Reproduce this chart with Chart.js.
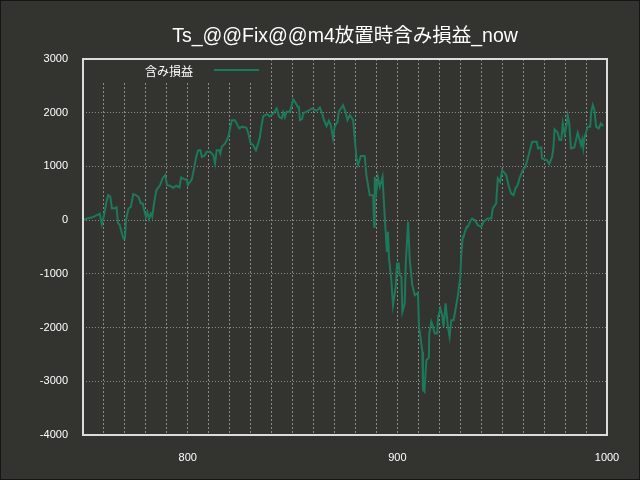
<!DOCTYPE html>
<html>
<head>
<meta charset="utf-8">
<script src="https://cdn.jsdelivr.net/npm/chart.js@4/dist/chart.umd.min.js"></script>
<style>
  html, body { margin: 0; padding: 0; background: #33332f; }
  #wrap { width: 640px; height: 480px; }
</style>
</head>
<body>
<div id="wrap"><canvas id="c" width="640" height="480"></canvas></div>
<script>
// chart data
const chartTitle = 'Ts_@@Fix@@m4放置時含み損益_now';
const seriesName = '含み損益';
const xTicksLabelled = [800, 900, 1000];

const xs = [
  750, 752, 755, 758, 759, 760, 761, 762, 763, 763.8, 765, 766, 766.7, 767.5, 768.6, 769.3, 770, 770.5,
  771.7, 772.8, 774, 775, 776.5, 777.6, 778.5, 779.3, 780, 780.7, 781.5, 782.3, 783, 784, 785, 786.8,
  787.9, 789.2, 790.1, 791.5, 793, 794.5, 796, 796.8, 798.7, 799.5, 800, 801.9, 803, 804, 805, 806,
  806.7, 808, 809, 810.6, 812.2, 813, 813.8, 815, 815.5, 816.2, 817.8, 819.3, 820, 821, 822.5, 823.7,
  824.6, 826, 828, 828.9, 830, 831.2, 832.5, 833.6, 834.4, 835.2, 836, 837.9, 839, 840.8, 842.4, 843.6,
  844.8, 845.5, 846.3, 847.1, 848.7, 849.5, 850.3, 851.4, 852.4, 853, 853.5, 854.5, 855, 857.4, 859.3,
  861.4, 863, 864.1, 865, 866.2, 867.3, 868.2, 869.3, 870.1, 871.4, 872, 874.1, 875.2, 876.2, 877.3,
  878.9, 879.7, 880.5, 881.2, 882.5, 884.4, 885.2, 886.8, 888.4, 888.9, 889.2, 890, 890.7, 891.6, 892.9,
  893.5, 894.4, 895, 895.5, 896, 897.1, 897.9, 899.2, 899.8, 900.6, 901.1, 901.9, 902.4, 903.5, 904,
  905.1, 905.9, 907.1, 908.3, 909.8, 910.3, 911, 911.9, 912.2, 912.9, 913.8, 915, 915.2, 916.2, 917,
  917.8, 919, 919.4, 920.5, 921.5, 922, 923, 924.1, 924.9, 925.7, 926.8, 927.8, 928.9, 930, 930.5,
  931.2, 931.6, 932.2, 933.1, 933.6, 935, 935.6, 937, 938.4, 940, 941.1, 943, 944.8, 945.5, 947.1,
  947.9, 949, 950, 951.9, 953.2, 954.3, 955.4, 956.3, 957.4, 958.2, 959.8, 961.1, 962.2, 963.3, 964.3,
  966.5, 967.1, 968.6, 969, 971.3, 972.5, 973.8, 974.4, 975, 976.5, 977.3, 978.2, 978.9, 979.8, 980.8,
  981.2, 982, 982.8, 984.4, 985.2, 986, 987, 987.6, 988.2, 988.7, 989.2, 990.8, 992, 992.4, 993.2,
  994, 994.8, 996, 997.1, 998.2
];

const pnl = [
  0, 30, 60, 120, -75, 80, 300, 465, 440, 217, 220, 240, -56, -90, -248, -341, -341, 0,
  217, 248, 484, 470, 434, 311, 311, 173, 61, 150, 20, 120, 60, 341, 558, 652,
  776, 838, 652, 640, 600, 640, 610, 795, 758, 758, 652, 758, 963, 1179, 1303, 1303,
  1179, 1200, 1272, 1272, 1210, 1055, 1303, 1303, 1240, 1365, 1428, 1551, 1676, 1862, 1862, 1769,
  1707, 1740, 1720, 1614, 1428, 1397, 1303, 1428, 1551, 1769, 1936, 1973, 1930, 1986, 2080, 1924,
  1893, 2010, 1912, 2017, 2017, 2123, 2247, 2184, 2110, 2110, 1862, 1880, 1986, 2035, 2080,
  2035, 2098, 1986, 1862, 1750, 1849, 1769, 1521, 1750, 1830, 2017, 2141, 2017, 1862, 1955,
  1862, 1490, 1149, 1024, 1192, 1192, 838, 465, 465, -124, 806, 540, 800, 620, 806,
  372, -217, -590, -217, -713, -1117, -1583, -1242, -806, -806, -1024, -1050, -1707, -1551, -806,
  -31, -745, -1210, -1397, -1353, -1986, -2172, -2451, -3166, -3197, -2607, -2560, -2110, -1893, -1986,
  -2110, -2110, -1800, -1645, -1800, -1986, -1551, -1986, -2172, -1862, -1862, -1645, -1397, -1055, -621,
  -310, -310, -217, -124, -124, 0, 31, 0, -93, -124, -31, 31, 31, 217, 310,
  776, 714, 931, 838, 620, 496, 465, 590, 652, 776, 931, 993, 1149, 1316, 1458,
  1458, 1335, 1354, 1149, 1117, 1043, 1179, 1335, 1689, 1626, 1490, 1490, 1800, 1600, 1800,
  1955, 1800, 1335, 1354, 1490, 1626, 1490, 1397, 1500, 1350, 1521, 1738, 1738, 1998, 2141,
  2050, 1738, 1707, 1800, 1750
];

const bgColor = '#33332f';
const lineColor = '#1b7a5c';
const gridColor = '#8a8a86';

// background + outer frame
const backdrop = {
  id: 'backdrop',
  beforeDraw(chart) {
    const ctx = chart.ctx;
    ctx.save();
    ctx.fillStyle = bgColor;
    ctx.fillRect(0, 0, chart.width, chart.height);
    ctx.strokeStyle = '#161616';
    ctx.lineWidth = 1;
    ctx.strokeRect(0.5, 0.5, chart.width - 1, chart.height - 1);
    ctx.restore();
  }
};

// title centred over the plot area rather than the whole canvas
const plotTitle = {
  id: 'plotTitle',
  afterDraw(chart) {
    const ctx = chart.ctx;
    const a = chart.chartArea;
    ctx.save();
    ctx.fillStyle = '#ffffff';
    ctx.font = '19.5px "Liberation Sans", "Noto Sans CJK JP", sans-serif';
    ctx.textAlign = 'center';
    ctx.textBaseline = 'middle';
    ctx.fillText(chartTitle, (a.left + a.right) / 2, 37);
    ctx.restore();
  }
};

// legend box sitting inside the plot, top-left
const innerLegend = {
  id: 'innerLegend',
  beforeDatasetsDraw(chart) {
    const ctx = chart.ctx;
    const a = chart.chartArea;
    const ds = chart.data.datasets[0];
    ctx.save();
    ctx.fillStyle = bgColor;
    ctx.fillRect(a.left + 1, a.top + 1, 182, 23);
    ctx.fillStyle = '#ffffff';
    ctx.font = '12px "Noto Sans CJK JP", sans-serif';
    ctx.textBaseline = 'middle';
    ctx.fillText(ds.label, a.left + 62, a.top + 12);
    ctx.strokeStyle = ds.borderColor;
    ctx.lineWidth = 2;
    ctx.beginPath();
    ctx.moveTo(a.left + 131, a.top + 11);
    ctx.lineTo(a.left + 176, a.top + 11);
    ctx.stroke();
    ctx.restore();
  }
};

// plot frame
const frame = {
  id: 'frame',
  afterDraw(chart) {
    const ctx = chart.ctx;
    const a = chart.chartArea;
    ctx.save();
    ctx.strokeStyle = '#dcdcdc';
    ctx.lineWidth = 2;
    ctx.strokeRect(a.left, a.top, a.right - a.left, a.bottom - a.top);
    ctx.restore();
  }
};

const points = xs.map((x, i) => ({ x: x, y: pnl[i] }));

new Chart(document.getElementById('c').getContext('2d'), {
  type: 'line',
  data: {
    datasets: [{
      label: seriesName,
      data: points,
      borderColor: lineColor,
      backgroundColor: lineColor,
      borderWidth: 2,
      pointRadius: 0,
      tension: 0,
      fill: false
    }]
  },
  options: {
    responsive: false,
    animation: false,
    layout: { padding: { top: 59, right: 33, left: 0, bottom: 0 } },
    plugins: {
      legend: { display: false },
      tooltip: { enabled: false },
      title: { display: false }
    },
    scales: {
      x: {
        type: 'linear',
        min: 750,
        max: 1000,
        afterFit(scale) { scale.height = 45; },
        ticks: {
          stepSize: 10,
          autoSkip: false,
          maxRotation: 0,
          padding: 16,
          color: '#ffffff',
          font: { family: '"Liberation Sans", sans-serif', size: 11 },
          callback: (v) => xTicksLabelled.includes(v) ? String(v) : ''
        },
        grid: { color: gridColor, lineWidth: 1, drawTicks: false },
        border: { display: false, dash: [2, 2] }
      },
      y: {
        min: -4000,
        max: 3000,
        afterFit(scale) { scale.width = 83; },
        ticks: {
          stepSize: 1000,
          padding: 15,
          color: '#ffffff',
          font: { family: '"Liberation Sans", sans-serif', size: 11 },
          callback: (v) => String(v)
        },
        grid: { color: gridColor, lineWidth: 1, drawTicks: false },
        border: { display: false, dash: [1, 2] }
      }
    }
  },
  plugins: [backdrop, innerLegend, frame, plotTitle]
});
</script>
</body>
</html>
